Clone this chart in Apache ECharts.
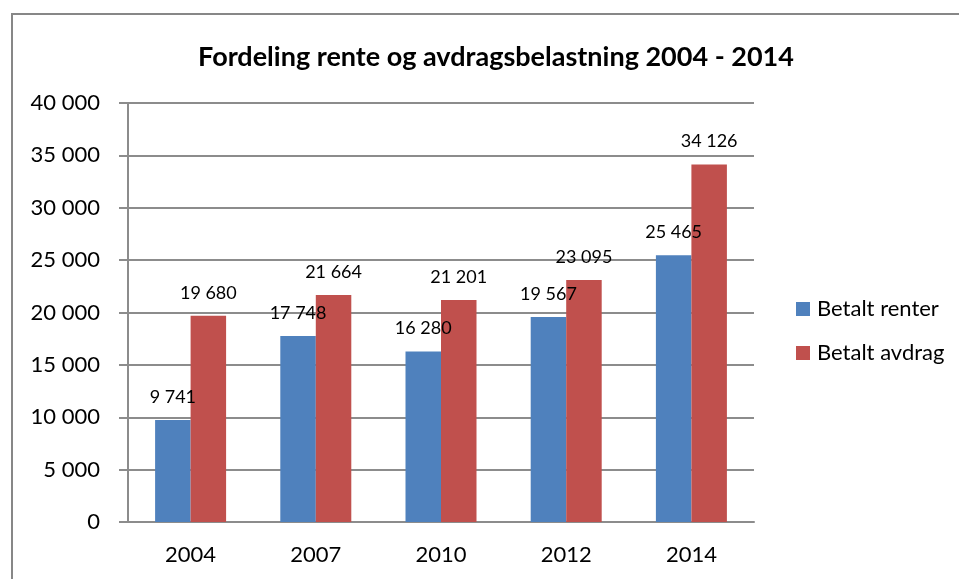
<!DOCTYPE html>
<html><head><meta charset="utf-8">
<script src="https://cdn.jsdelivr.net/npm/echarts@6/dist/echarts.min.js"></script>
<style>html,body{margin:0;padding:0;background:#fff}#c{width:959px;height:579px}</style>
</head><body><div id="c"></div>
<script>
const categories = ['2004', '2007', '2010', '2012', '2014'];
const renter = [9741, 17748, 16280, 19567, 25465];
const avdrag = [19680, 21664, 21201, 23095, 34126];
const seriesNames = ['Betalt renter', 'Betalt avdrag'];
const titleText = 'Fordeling rente og avdragsbelastning 2004 - 2014';

const fmt = v => String(v).replace(/\B(?=(\d{3})+(?!\d))/g, ' ');
const FONT = 'Lato, "Open Sans", sans-serif';
const chart = echarts.init(document.getElementById('c'), null, {renderer: 'canvas'});
const labelCfg = {show: true, position: 'top', distance: 14, color: '#000', fontFamily: FONT, fontSize: 18, formatter: p => fmt(p.value)};
chart.setOption({
  animation: false,
  backgroundColor: '#fff',
  textStyle: {fontFamily: FONT},
  title: {text: titleText, left: 491, textAlign: 'center', top: 39,
    textStyle: {fontFamily: FONT, fontWeight: 'bold', fontSize: 27, color: '#000'}},
  graphic: [{type: 'polyline', shape: {points: [[12, 600], [12, 14], [980, 14]]},
    style: {stroke: '#878787', lineWidth: 2, fill: null}}],
  legend: {orient: 'vertical', left: 796, top: 298, padding: 0, itemWidth: 14, itemHeight: 14, itemGap: 22,
    icon: 'rect', data: seriesNames,
    textStyle: {fontFamily: FONT, fontSize: 22, color: '#000', padding: [0, 0, 0, 2]}},
  grid: {left: 128, right: 205, top: 103, bottom: 57, containLabel: false},
  xAxis: {type: 'category', data: categories,
    axisLine: {lineStyle: {color: '#8c8c8c', width: 2}},
    axisTick: {show: false},
    axisLabel: {color: '#000', fontFamily: FONT, fontSize: 22, margin: 22}},
  yAxis: {type: 'value', min: 0, max: 40000, interval: 5000,
    axisLine: {show: true, lineStyle: {color: '#8c8c8c', width: 2}},
    axisTick: {show: true, length: 9, lineStyle: {color: '#8c8c8c', width: 2}},
    splitLine: {lineStyle: {color: '#8c8c8c', width: 2}},
    axisLabel: {color: '#000', fontFamily: FONT, fontSize: 22, margin: 28, formatter: v => fmt(v)}},
  series: [
    {name: seriesNames[0], type: 'bar', data: renter, barWidth: 35.5, barGap: '0%',
     itemStyle: {color: '#4F81BD'}, label: labelCfg},
    {name: seriesNames[1], type: 'bar', data: avdrag, barWidth: 35.5, barGap: '0%',
     itemStyle: {color: '#C0504D'}, label: labelCfg}
  ]
});
</script></body></html>
